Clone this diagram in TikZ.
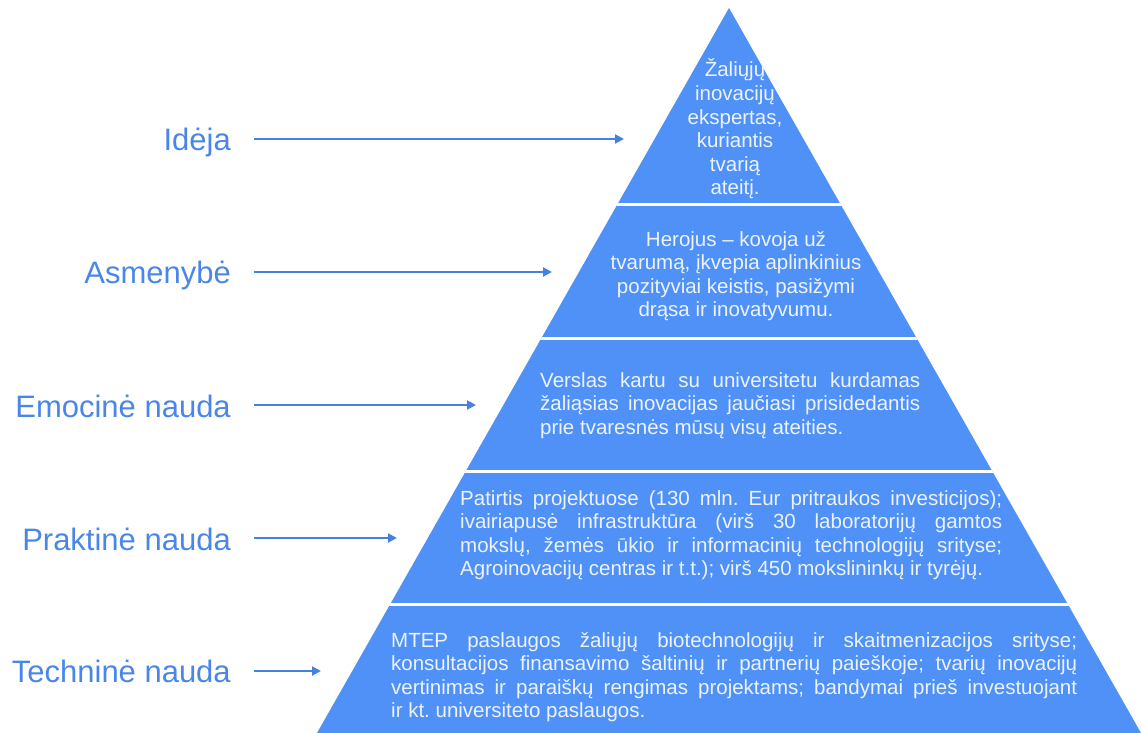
\documentclass[tikz,border=0pt]{standalone}
\usepackage{fontspec}
\setmainfont{Liberation Sans}
\usetikzlibrary{arrows.meta}
\definecolor{pyrc}{RGB}{80,145,248}
\definecolor{labc}{RGB}{74,134,232}
\definecolor{arrc}{RGB}{70,128,224}
\definecolor{ptc}{RGB}{236,243,255}
\frenchspacing
\begin{document}
\begin{tikzpicture}[x=1pt,y=-1pt,
  lab/.style={text=labc, font=\fontsize{31}{36}\selectfont, inner sep=0pt, anchor=base east},
  arr/.style={draw=arrc, line width=2pt, shorten <=23pt, -{Triangle[length=9pt,width=9pt]}},
  ptext/.style={text=ptc, font=\fontsize{20.5}{23.6}\selectfont\frenchspacing, inner sep=0pt},
  sepline/.style={draw=white, line width=3pt}]
\useasboundingbox (0,0) rectangle (1141,733);
% pyramid
\fill[pyrc] (729,8) -- (1141,733) -- (317,733) -- cycle;
\begin{scope}
  \clip (729,8) -- (1141,733) -- (317,733) -- cycle;
  \foreach \yy in {204,338,471,604} \draw[sepline] (300,\yy) -- (1141,\yy);
\end{scope}
% texts in pyramid
\node[ptext, anchor=base] (t1) at (735,77) {\parbox[t]{150pt}{\centering Žaliųjų\\inovacijų\\ekspertas,\\kuriantis\\tvarią\\ateitį.}};
\node[ptext, anchor=base] (t2) at (736,246) {\parbox[t]{300pt}{\centering Herojus – kovoja už\\tvarumą, įkvepia aplinkinius\\pozityviai keistis, pasižymi\\drąsa ir inovatyvumu.}};
\node[ptext, anchor=base west] (t3) at (540,387) {\parbox[t]{380pt}{\makebox[380pt][s]{Verslas kartu su universitetu kurdamas}\\\makebox[380pt][s]{žaliąsias inovacijas jaučiasi prisidedantis}\\prie tvaresnės mūsų visų ateities.}};
\node[ptext, anchor=base west] (t4) at (460,505) {\parbox[t]{542pt}{\makebox[542pt][s]{Patirtis projektuose (130 mln. Eur pritraukos investicijos);}\\\makebox[542pt][s]{ivairiapusė infrastruktūra (virš 30 laboratorijų gamtos}\\\makebox[542pt][s]{mokslų, žemės ūkio ir informacinių technologijų srityse;}\\Agroinovacijų centras ir t.t.); virš 450 mokslininkų ir tyrėjų.}};
\node[ptext, anchor=base west] (t5) at (391,647) {\parbox[t]{686pt}{\makebox[686pt][s]{MTEP paslaugos žaliųjų biotechnologijų ir skaitmenizacijos srityse;}\\\makebox[686pt][s]{konsultacijos finansavimo šaltinių ir partnerių paieškoje; tvarių inovacijų}\\\makebox[686pt][s]{vertinimas ir paraiškų rengimas projektams; bandymai prieš investuojant}\\ir kt. universiteto paslaugos.}};
% labels
\node[lab] (l1) at (231,150) {Idėja};
\node[lab] (l2) at (231,283) {Asmenybė};
\node[lab] (l3) at (231,417) {Emocinė nauda};
\node[lab] (l4) at (231,550) {Praktinė nauda};
\node[lab] (l5) at (231,682) {Techninė nauda};
% arrow ends
\coordinate (e1) at (624,139);
\coordinate (e2) at (552,272);
\coordinate (e3) at (476,405);
\coordinate (e4) at (397,538);
\coordinate (e5) at (321,671);
\draw[arr] (l1.east |- e1) -- (e1);
\draw[arr] (l2.east |- e2) -- (e2);
\draw[arr] (l3.east |- e3) -- (e3);
\draw[arr] (l4.east |- e4) -- (e4);
\draw[arr] (l5.east |- e5) -- (e5);
\end{tikzpicture}
\end{document}
